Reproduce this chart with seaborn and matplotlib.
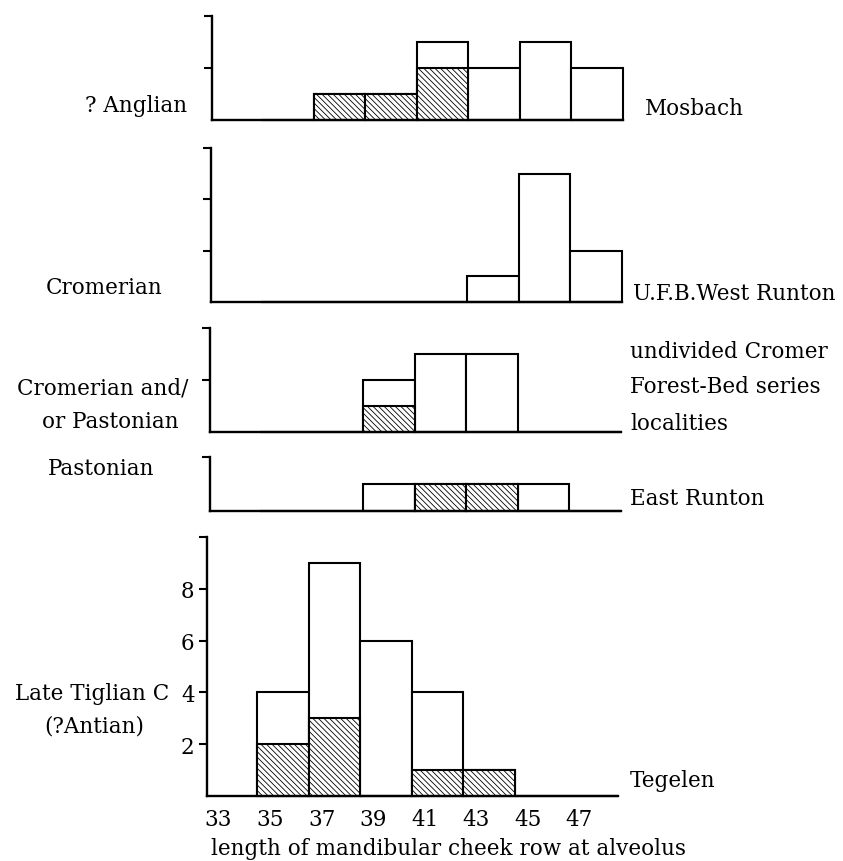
import numpy as np
import matplotlib
matplotlib.use("Agg")
import matplotlib.pyplot as plt
import seaborn as sns

# Bins (class width 2) and axis labels
bin_edges = [34.5, 36.5, 38.5, 40.5, 42.5, 44.5, 46.5, 48.5]
bin_mids = [35.5, 37.5, 39.5, 41.5, 43.5, 45.5, 47.5]
tick_values = [33, 35, 37, 39, 41, 43, 45, 47]

# Counts per bin: total (open bar) and hatched part
mosbach_total = [0, 1, 1, 3, 2, 3, 2]
mosbach_hatched = [0, 1, 1, 2, 0, 0, 0]
west_runton_total = [0, 0, 0, 0, 1, 5, 2]
west_runton_hatched = [0, 0, 0, 0, 0, 0, 0]
cromer_total = [0, 0, 2, 3, 3, 0, 0]
cromer_hatched = [0, 0, 1, 0, 0, 0, 0]
east_runton_total = [0, 0, 1, 1, 1, 1, 0]
east_runton_hatched = [0, 0, 0, 1, 1, 0, 0]
tegelen_total = [4, 9, 6, 4, 1, 0, 0]
tegelen_hatched = [2, 3, 0, 1, 1, 0, 0]

xlabel = "length of mandibular cheek row at alveolus"

sns.set_style("ticks")
plt.rcParams['font.family'] = ['DejaVu Serif']
plt.rcParams['text.color'] = 'black'
plt.rcParams['xtick.color'] = 'black'
plt.rcParams['ytick.color'] = 'black'
plt.rcParams['axes.edgecolor'] = 'black'
plt.rcParams['hatch.linewidth'] = 0.6
plt.rcParams['hatch.color'] = 'black'

W, H = 843, 862
fig = plt.figure(figsize=(W / 100, H / 100), dpi=100)

x_lo, x_hi = 32.55, 48.5
px_per_unit = 25.75

# left spine px, top px, baseline px, ymax
layout = [(212, 17, 121, 4), (211, 149, 303, 6), (210, 329, 433, 4),
          (210, 458, 512, 2), (207, 538, 797, 10)]
totals = [mosbach_total, west_runton_total, cromer_total, east_runton_total, tegelen_total]
hatched = [mosbach_hatched, west_runton_hatched, cromer_hatched, east_runton_hatched, tegelen_hatched]

for i, (left, top, base, ymax) in enumerate(layout):
    width = (x_hi - x_lo) * px_per_unit
    ax = fig.add_axes([left / W, 1 - base / H, width / W, (base - top) / H])
    sns.histplot(x=bin_mids, weights=totals[i], bins=bin_edges, ax=ax,
                 color='white', edgecolor='black', linewidth=1.5, alpha=1)
    sns.histplot(x=bin_mids, weights=hatched[i], bins=bin_edges, ax=ax,
                 color='white', edgecolor='black', linewidth=1.5, alpha=1,
                 hatch='\\\\\\\\\\\\')
    for p in ax.patches:
        p.set_clip_on(False)
    ax.set_xlim(x_lo, x_hi)
    ax.set_ylim(0, ymax)
    ax.set_ylabel("")
    ax.set_xlabel("")
    sns.despine(ax=ax)
    for s in ['left', 'bottom']:
        ax.spines[s].set_linewidth(1.7)
        ax.spines[s].set_capstyle('projecting')
    ax.set_yticks(np.arange(2, ymax + 1, 2))
    ax.tick_params(axis='y', direction='out', length=6, width=1.5, labelsize=15.5, pad=3)
    if i < 4:
        ax.tick_params(axis='y', labelleft=False)
        ax.set_xticks([])
    else:
        ax.set_yticklabels(['2', '4', '6', '8', ''])
        ax.set_xticks(tick_values)
        ax.set_xticklabels([str(t) for t in tick_values])
        ax.tick_params(axis='x', length=0, labelsize=15.5, pad=9)

def ftext(x, y, s, **kw):
    fig.text(x / W, 1 - y / H, s, fontsize=15.5, va='baseline', **kw)

# left-hand stage labels
ftext(187, 112, "? Anglian", ha='right')
ftext(104, 294, "Cromerian", ha='center')
ftext(103, 395, "Cromerian and/", ha='center')
ftext(110, 428, "or Pastonian", ha='center')
ftext(101, 475, "Pastonian", ha='center')
ftext(92, 700, "Late Tiglian C", ha='center')
ftext(94, 733, "(?Antian)", ha='center')

# right-hand site labels
ftext(645, 115, "Mosbach")
ftext(633, 300, "U.F.B.West Runton")
ftext(630, 358, "undivided Cromer")
ftext(630, 393, "Forest-Bed series")
ftext(630, 430, "localities")
ftext(630, 505, "East Runton")
ftext(630, 787, "Tegelen")

ftext(449, 855, xlabel, ha='center')

fig.savefig("out.png", dpi=100)
